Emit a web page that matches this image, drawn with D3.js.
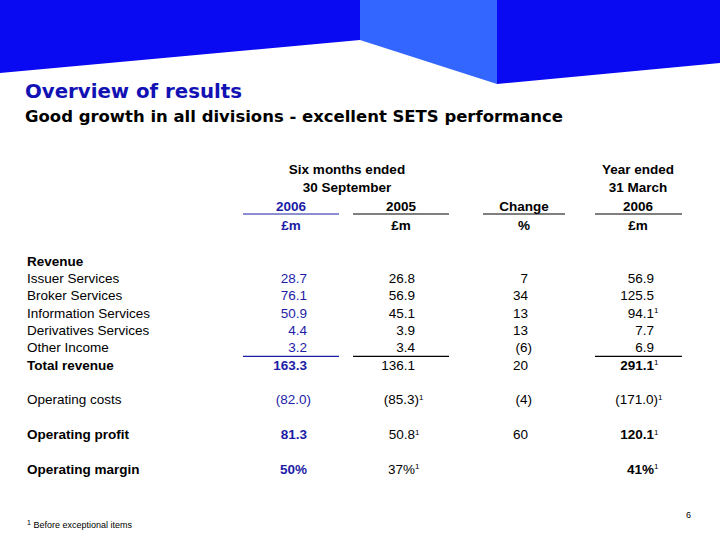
<!DOCTYPE html>
<html><head><meta charset="utf-8">
<script src="https://cdn.jsdelivr.net/npm/d3@7"></script>
<style>body{margin:0;background:#fff}svg{display:block}</style>
</head><body>
<script>
// ---- data ----
const title = "Overview of results";
const subtitle = "Good growth in all divisions - excellent SETS performance";
const headerLines = {
  c2006: ["", "", "2006", "£m"],
  c2005: ["", "", "2005", "£m"],
  change: ["", "", "Change", "%"],
  year: ["Year ended", "31 March", "2006", "£m"]
};
const groupHeader = ["Six months ended", "30 September"];
const rowLabels = ["Revenue", "Issuer Services", "Broker Services", "Information Services",
  "Derivatives Services", "Other Income", "Total revenue", "Operating costs",
  "Operating profit", "Operating margin"];
const rowBold = [true, false, false, false, false, false, true, false, true, true];
const values2006 = ["", "28.7", "76.1", "50.9", "4.4", "3.2", "163.3", "(82.0)", "81.3", "50%"];
const values2005 = ["", "26.8", "56.9", "45.1", "3.9", "3.4", "136.1", "(85.3)", "50.8", "37%"];
const changePct = ["", "7", "34", "13", "13", "(6)", "20", "(4)", "60", ""];
const valuesYear = ["", "56.9", "125.5", "94.1", "7.7", "6.9", "291.1", "(171.0)", "120.1", "41%"];
const note2005 = [false, false, false, false, false, false, false, true, true, true];
const noteYear = [false, false, false, true, false, false, true, true, true, true];
const footnote = "Before exceptional items";
const pageNumber = "6";

// ---- layout ----
const W = 720, H = 540;
const svg = d3.select("body").append("svg").attr("width", W).attr("height", H);
const blueDark = "#0a0af2", blueLight = "#3366ff", navy = "#1c1ca6";

// header shapes
const hx = d3.scaleLinear().domain([0, 1]).range([0, W]);
const shapes = [
  {pts: [[0,0],[0.5,0],[0.5,40/540],[0,73/540]], c: blueDark},
  {pts: [[0.5,0],[497/720,0],[497/720,84/540],[0.5,40/540]], c: blueLight},
  {pts: [[497/720,0],[1,0],[1,63/540],[497/720,84/540]], c: blueDark}
];
const hy = d3.scaleLinear().domain([0, 1]).range([0, H]);
svg.selectAll("path.hdr").data(shapes).join("path")
  .attr("d", d => d3.line().x(p => hx(p[0])).y(p => hy(p[1]))(d.pts) + "Z")
  .attr("fill", d => d.c);

svg.append("text").attr("x", 25).attr("y", 98).text(title)
  .attr("font-family", "DejaVu Sans").attr("font-weight", "bold").attr("font-size", 19)
  .attr("fill", "#1212b4").attr("textLength", 217).attr("lengthAdjust", "spacingAndGlyphs");
svg.append("text").attr("x", 25).attr("y", 122).text(subtitle)
  .attr("font-family", "DejaVu Sans").attr("font-weight", "bold").attr("font-size", 15.5)
  .attr("fill", "#000").attr("textLength", 538).attr("lengthAdjust", "spacingAndGlyphs");

const font = "Liberation Sans, Arial, sans-serif";
const fs = 13.5;

// column scales
const colKeys = ["c2006", "c2005", "change", "year"];
const colRight = d3.scaleOrdinal().domain(colKeys).range([307, 415, 528, 654]);
const colCenter = d3.scaleOrdinal().domain(colKeys).range([291, 401, 524, 638]);
const colLine = d3.scaleOrdinal().domain(colKeys).range([[243, 339], [353, 449], [483, 565], [595, 682]]);
const colColor = d3.scaleOrdinal().domain(colKeys).range([navy, "#000", "#000", "#000"]);

// header rows
const hRow = d3.scalePoint().domain([0, 1, 2, 3]).range([169, 225]);
const g = svg.append("g").attr("font-family", font).attr("font-size", fs);
g.selectAll("text.grp").data(groupHeader).join("text")
  .attr("x", 347).attr("y", (d, i) => hRow(i)).attr("dy", "0.35em")
  .attr("text-anchor", "middle").attr("font-weight", "bold").text(d => d);
colKeys.forEach(k => {
  g.selectAll("text.h" + k).data(headerLines[k]).join("text")
    .attr("x", colCenter(k)).attr("y", (d, i) => hRow(i)).attr("dy", "0.35em")
    .attr("text-anchor", "middle").attr("font-weight", "bold")
    .attr("fill", colColor(k)).text(d => d);
  const [a, b] = colLine(k);
  g.append("line").attr("x1", a).attr("x2", b).attr("y1", 214).attr("y2", 214)
    .attr("stroke", colColor(k)).attr("stroke-width", 1.2);
});

// body rows (band slots incl. spacers)
const slots = ["r0","r1","r2","r3","r4","r5","r6","s1","r7","s2","r8","s3","r9"];
const rowY = d3.scalePoint().domain(slots).range([261, 469]);
const yOf = i => rowY("r" + i);

g.selectAll("text.lbl").data(rowLabels).join("text")
  .attr("x", 27).attr("y", (d, i) => yOf(i)).attr("dy", "0.35em")
  .attr("font-weight", (d, i) => rowBold[i] ? "bold" : "normal").text(d => d);

function drawCol(key, vals, notes, boldRows) {
  const sel = g.selectAll("text.v" + key).data(vals).join("text")
    .attr("x", d => colRight(key) + (d.startsWith("(") ? 4 : 0))
    .attr("y", (d, i) => yOf(i)).attr("dy", "0.35em")
    .attr("text-anchor", "end").attr("fill", colColor(key))
    .attr("font-weight", (d, i) => boldRows(i) ? "bold" : "normal");
  sel.each(function(d, i) {
    const t = d3.select(this);
    t.append("tspan").text(d);
    if (notes && notes[i]) {
      t.attr("text-anchor", "start");
      const tmp = this.getComputedTextLength();
      t.attr("x", +t.attr("x") - tmp);
      t.append("tspan").attr("font-size", 8).attr("font-weight", "normal").attr("dy", "-0.55em").text("1");
    }
  });
}
drawCol("c2006", values2006, null, i => rowBold[i] && i !== 0);
drawCol("c2005", values2005, note2005, i => false);
drawCol("change", changePct, null, i => false);
drawCol("year", valuesYear, noteYear, i => [6, 8, 9].includes(i));

// total underline
const yLine = (yOf(5) + yOf(6)) / 2;
["c2006", "c2005", "year"].forEach(k => {
  const [a, b] = colLine(k);
  g.append("line").attr("x1", a).attr("x2", b).attr("y1", yLine).attr("y2", yLine)
    .attr("stroke", colColor(k)).attr("stroke-width", 1.2);
});

// footnote & page number
const ft = svg.append("text").attr("x", 27).attr("y", 527)
  .attr("font-family", font).attr("font-size", 9);
ft.append("tspan").attr("font-size", 7).attr("dy", "-0.3em").text("1");
ft.append("tspan").attr("dy", "0.3em").text(" " + footnote);
svg.append("text").attr("x", 686).attr("y", 518).attr("font-family", font).attr("font-size", 9).text(pageNumber);
</script>
</body></html>
